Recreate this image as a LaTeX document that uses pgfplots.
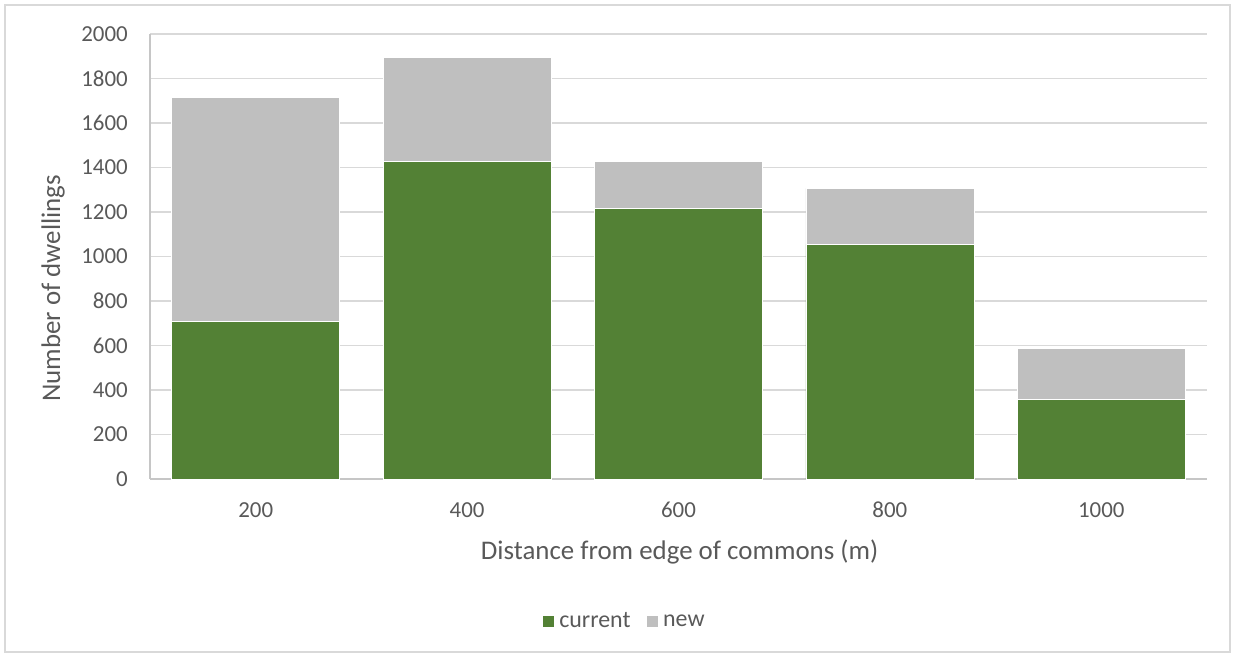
\documentclass[border=0pt]{standalone}
\usepackage{pgfplots}
\pgfplotsset{compat=1.18}
\usepackage{fontspec}
\setmainfont{Carlito}
\definecolor{cur}{HTML}{538135}
\definecolor{nw}{HTML}{BFBFBF}
\definecolor{txt}{HTML}{595959}
\definecolor{gridc}{HTML}{D9D9D9}
\definecolor{axisc}{HTML}{C6C6C6}
\begin{document}
\begin{tikzpicture}[x=1bp,y=1bp]
\path[use as bounding box] (0,0) rectangle (1235,657);
\draw[gridc, line width=1.5bp] (5,5) rectangle (1230,652);
\begin{axis}[
  at={(150bp,178bp)}, anchor=south west,
  scale only axis, width=1057bp, height=445bp,
  ybar stacked, bar width=168bp,
  xmin=-0.5, xmax=4.5, ymin=0, ymax=2000,
  xtick={0,1,2,3,4}, xticklabels={200,400,600,800,1000},
  ytick={0,200,...,2000},
  ymajorgrids, xmajorgrids=false,
  grid style={draw=gridc, line width=1.5bp},
  axis x line*=bottom, axis y line*=left,
  axis line style={draw=axisc, line width=1.5bp},
  major tick length=0pt,
  tick label style={font=\fontsize{23}{27}\selectfont, text=txt},
  /pgf/number format/assume math mode=true,
  /pgf/number format/set thousands separator={},
  yticklabel style={anchor=east, inner xsep=0pt, xshift=-22bp},
  xticklabel style={anchor=base, yshift=-39bp},
  xlabel={Distance from edge of commons (m)},
  ylabel={Number of dwellings},
  label style={font=\fontsize{27}{31}\selectfont, text=txt},
  xlabel style={at={(axis description cs:0.501,0)}, anchor=base, yshift=-81bp},
  ylabel style={at={(axis description cs:-0.0851,0.428)}, anchor=base},
  legend style={at={(0.450,-0.319)}, anchor=center, draw=none, fill=none,
    legend columns=2, font=\fontsize{24}{28}\selectfont, text=txt,
    inner sep=0pt,
    nodes={inner xsep=5bp},
    /tikz/every even column/.append style={column sep=10bp}},
  legend image code/.code={\fill[#1] (0bp,-6bp) rectangle (12bp,6bp);},
  clip=false,
]
\addplot[fill=cur, draw=white, line width=0.6bp] coordinates {(0,710) (1,1428) (2,1215) (3,1055) (4,358)};
\addplot[fill=nw, draw=white, line width=0.6bp] coordinates {(0,1005) (1,467) (2,213) (3,251) (4,230)};
\legend{current,new}
\end{axis}
\end{tikzpicture}
\end{document}
